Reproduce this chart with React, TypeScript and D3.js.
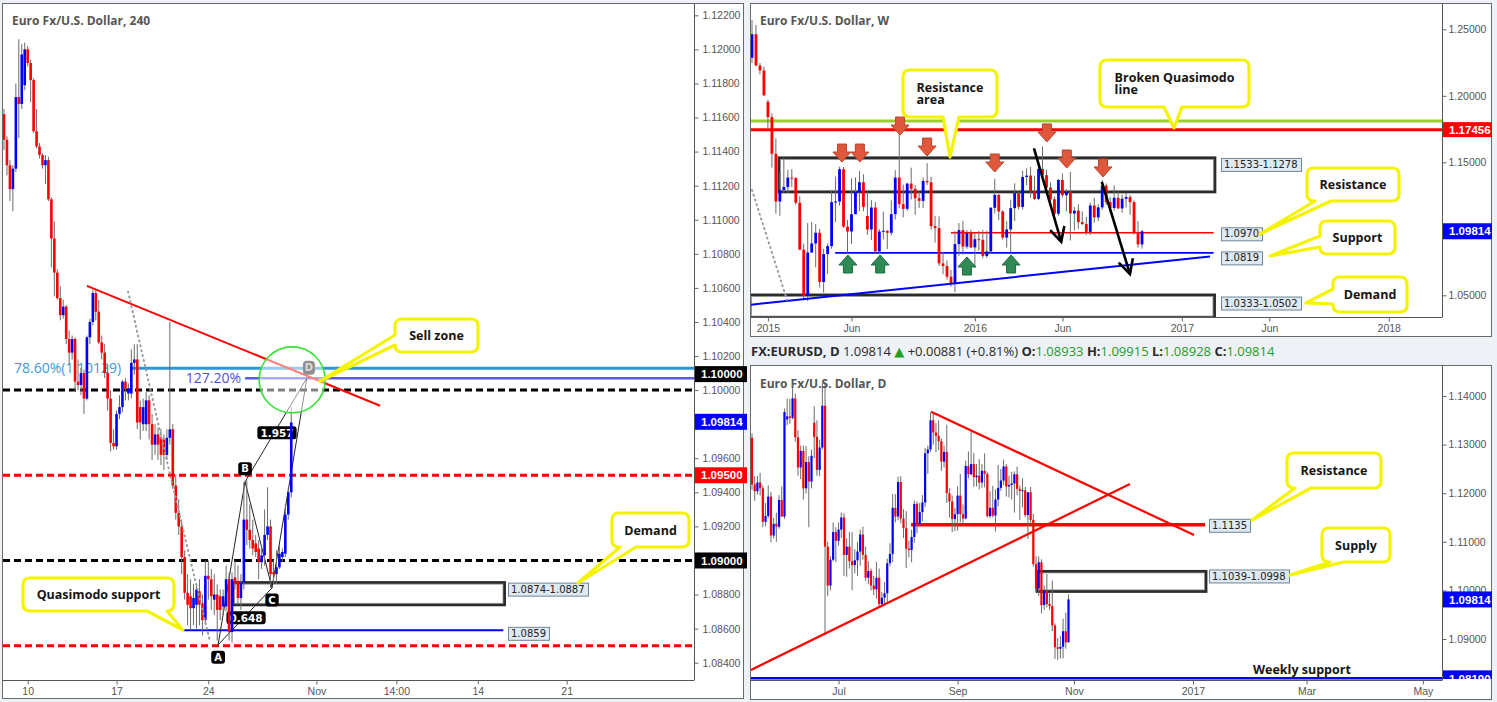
"use client"

import { useEffect, useRef } from "react"
import * as d3 from "d3"

type Bar = [number, number, number, number] // open, high, low, close
type Pt = [number, number] // bar index, price

// ---------------- 4H chart (EURUSD, 240) ----------------
const h4Bars: Bar[] = [
  [1.1162, 1.1165, 1.1141, 1.1147], [1.1147, 1.1149, 1.1126, 1.1132], [1.1132, 1.1135, 1.1111, 1.1118],
  [1.1118, 1.1132, 1.1105, 1.113], [1.113, 1.118, 1.1128, 1.1172], [1.1172, 1.1206, 1.1148, 1.1168],
  [1.1168, 1.1203, 1.1165, 1.1197], [1.1179, 1.1204, 1.1176, 1.12], [1.12, 1.1202, 1.119, 1.1192],
  [1.1192, 1.1194, 1.1169, 1.1182], [1.1182, 1.1183, 1.1151, 1.1152], [1.1152, 1.1165, 1.1142, 1.1143],
  [1.1143, 1.1145, 1.1136, 1.1138], [1.1138, 1.1139, 1.113, 1.1132], [1.1132, 1.1138, 1.1121, 1.1135],
  [1.1135, 1.1137, 1.1111, 1.1112], [1.1112, 1.1113, 1.1072, 1.1089], [1.1089, 1.1099, 1.1055, 1.1069],
  [1.1069, 1.1071, 1.1053, 1.1054], [1.1054, 1.1061, 1.1041, 1.1044], [1.1044, 1.1053, 1.1042, 1.1049],
  [1.1049, 1.105, 1.1027, 1.103], [1.103, 1.1035, 1.1015, 1.1022], [1.1022, 1.1032, 1.1018, 1.103],
  [1.103, 1.1031, 1.0999, 1.1005], [1.1005, 1.1018, 1.1, 1.1003], [1.1003, 1.1013, 1.0997, 1.101],
  [1.101, 1.1012, 1.0986, 1.0995], [1.0995, 1.1032, 1.0994, 1.1031], [1.1031, 1.1042, 1.1027, 1.104],
  [1.104, 1.1059, 1.1038, 1.1057], [1.1057, 1.1059, 1.1041, 1.1046], [1.1046, 1.1053, 1.1027, 1.1028],
  [1.1028, 1.1032, 1.1018, 1.1022], [1.1022, 1.1027, 1.1007, 1.101], [1.101, 1.1015, 1.0988, 1.0995],
  [1.0995, 1.1, 1.0964, 1.0969], [1.0969, 1.0977, 1.0965, 1.0967], [1.0967, 1.0988, 1.0965, 1.0986],
  [1.0986, 1.0997, 1.0983, 1.099], [1.099, 1.1006, 1.0987, 1.1005], [1.1005, 1.1007, 1.0994, 1.1001],
  [1.0998, 1.1004, 1.0994, 1.1001], [1.0998, 1.1024, 1.0995, 1.1016], [1.1016, 1.1027, 1.1009, 1.1018],
  [1.1018, 1.1027, 1.0977, 1.0981], [1.099, 1.0994, 1.0971, 1.0981], [1.098, 1.0995, 1.0976, 1.099],
  [1.098, 1.0999, 1.0976, 1.0994], [1.0994, 1.0997, 1.0971, 1.098], [1.098, 1.0986, 1.0959, 1.0968],
  [1.0968, 1.098, 1.0962, 1.0974], [1.0974, 1.0978, 1.0959, 1.0968], [1.0972, 1.0977, 1.0956, 1.0962],
  [1.0971, 1.0974, 1.0953, 1.0962], [1.0962, 1.0977, 1.0959, 1.0972], [1.0972, 1.104, 1.0968, 1.0977],
  [1.0977, 1.098, 1.0942, 1.0944], [1.0944, 1.095, 1.0924, 1.0928], [1.0928, 1.0936, 1.0915, 1.092],
  [1.092, 1.0924, 1.0892, 1.0902], [1.0902, 1.0906, 1.0877, 1.0881], [1.0881, 1.0892, 1.0862, 1.0874],
  [1.0879, 1.0889, 1.0859, 1.0872], [1.0872, 1.0886, 1.0862, 1.0878], [1.0874, 1.0886, 1.086, 1.0883],
  [1.0882, 1.0889, 1.0862, 1.0874], [1.0875, 1.088, 1.0856, 1.0865], [1.0865, 1.09, 1.0862, 1.0891],
  [1.0891, 1.09, 1.0877, 1.0889], [1.0889, 1.0895, 1.0871, 1.0879], [1.0877, 1.0892, 1.0868, 1.088],
  [1.088, 1.0886, 1.0853, 1.0871], [1.0879, 1.0883, 1.0865, 1.0871], [1.0873, 1.0883, 1.0868, 1.0879],
  [1.0873, 1.0897, 1.087, 1.0889], [1.0889, 1.0893, 1.0853, 1.0858], [1.0858, 1.0893, 1.0852, 1.0889],
  [1.089, 1.09, 1.0883, 1.0887], [1.0888, 1.0897, 1.0874, 1.0878], [1.0878, 1.0892, 1.0871, 1.0887],
  [1.0887, 1.0946, 1.0883, 1.0924], [1.0924, 1.0947, 1.0909, 1.0918], [1.0918, 1.0933, 1.0907, 1.0912],
  [1.0912, 1.0924, 1.0903, 1.0907], [1.091, 1.0915, 1.0902, 1.0905], [1.0907, 1.0912, 1.0889, 1.0899],
  [1.0899, 1.0909, 1.0895, 1.0903], [1.0903, 1.093, 1.0897, 1.0915], [1.0915, 1.0943, 1.0912, 1.092],
  [1.092, 1.0924, 1.0884, 1.0892], [1.0893, 1.09, 1.0886, 1.0892], [1.0892, 1.0906, 1.0886, 1.0896],
  [1.0896, 1.0909, 1.0895, 1.0904], [1.0902, 1.0907, 1.0899, 1.0905], [1.0904, 1.0933, 1.0902, 1.0927],
  [1.0927, 1.0943, 1.0924, 1.094], [1.094, 1.099, 1.0937, 1.0981],
]
const h4TickIdx = [8, 38, 69, 105.5, 132.5, 160, 190]
const h4TickText = ["10", "17", "24", "Nov", "14:00", "14", "21"]
const h4PriceTicks = [
  1.084, 1.086, 1.088, 1.09, 1.092, 1.094, 1.096, 1.098, 1.1, 1.102,
  1.104, 1.106, 1.108, 1.11, 1.112, 1.114, 1.116, 1.118, 1.12, 1.122,
]
const h4BlackLevels = [1.1, 1.09]
const h4RedLevels = [1.095, 1.085]
const h4Fib786 = 1.10129
const h4Fib1272 = 1.10069
const h4Demand: [number, number] = [1.0887, 1.0874]
const h4QmSupport = 1.0859
const h4Trend: Pt[] = [[28, 1.10612], [127, 1.09908]]
const h4Dotted: Pt[] = [[41.9, 1.10577], [56.1, 1.09503], [69.6, 1.08522]]
const abcdNames = ["A", "B", "C", "D"]
const abcdPts: Pt[] = [[72.3, 1.08505], [81.4, 1.09462], [90.5, 1.08839], [102.3, 1.10072]]
const abcdRatios = ["0.648", "1.957"]
const sellZone: Pt = [97.3, 1.1006]
const h4Tags = [
  { p: 1.1, dy: -16, fill: "#000" },
  { p: 1.09814, dy: 0, fill: "#0000ff" },
  { p: 1.095, dy: 0, fill: "#ff0000" },
  { p: 1.09, dy: 0, fill: "#000" },
]

// ---------------- Weekly chart ----------------
const wBars: Bar[] = [
  [1.2286, 1.257, 1.2247, 1.2463], [1.2463, 1.2532, 1.2221, 1.2228], [1.2228, 1.2246, 1.2162, 1.2191],
  [1.2191, 1.2218, 1.2, 1.2003], [1.1955, 1.1971, 1.1754, 1.184], [1.184, 1.1868, 1.146, 1.1564],
  [1.1564, 1.1679, 1.1114, 1.1205], [1.1205, 1.1423, 1.1098, 1.1291], [1.1291, 1.1534, 1.127, 1.1315],
  [1.1315, 1.1443, 1.1269, 1.1385], [1.1385, 1.1449, 1.1315, 1.1381], [1.1381, 1.1389, 1.1181, 1.1196],
  [1.1196, 1.1245, 1.084, 1.0843], [1.0843, 1.0888, 1.0462, 1.0495], [1.0495, 1.1043, 1.0457, 1.0822],
  [1.0822, 1.1052, 1.0818, 1.089], [1.089, 1.1035, 1.0711, 1.097], [1.097, 1.0999, 1.0559, 1.06],
  [1.06, 1.0849, 1.052, 1.081], [1.081, 1.089, 1.066, 1.087], [1.087, 1.129, 1.085, 1.12],
  [1.12, 1.1392, 1.1052, 1.1205], [1.1205, 1.1467, 1.1174, 1.1448], [1.1448, 1.1465, 1.1008, 1.1016],
  [1.1016, 1.1066, 1.0819, 1.098], [1.098, 1.138, 1.0885, 1.111], [1.111, 1.1386, 1.1108, 1.1275],
  [1.1275, 1.1436, 1.1132, 1.135], [1.135, 1.141, 1.1132, 1.1165], [1.1096, 1.1279, 1.0955, 1.0995],
  [1.0995, 1.1215, 1.0915, 1.116], [1.116, 1.12, 1.0808, 1.083], [1.083, 1.0998, 1.0808, 1.098],
  [1.098, 1.1129, 1.092, 1.0985], [1.0985, 1.099, 1.0848, 1.097], [1.097, 1.1214, 1.095, 1.111],
  [1.111, 1.144, 1.107, 1.1385], [1.1385, 1.1714, 1.1155, 1.1185], [1.1185, 1.1332, 1.1087, 1.115],
  [1.115, 1.1345, 1.1135, 1.134], [1.134, 1.146, 1.122, 1.13], [1.13, 1.133, 1.1105, 1.123],
  [1.123, 1.128, 1.1157, 1.121], [1.121, 1.1387, 1.1155, 1.136], [1.136, 1.1494, 1.133, 1.135],
  [1.135, 1.139, 1.0995, 1.102], [1.102, 1.1095, 1.0897, 1.1005], [1.1005, 1.1093, 1.072, 1.074],
  [1.074, 1.0828, 1.0658, 1.072], [1.072, 1.0762, 1.0618, 1.064], [1.064, 1.0692, 1.0565, 1.059],
  [1.059, 1.0983, 1.0524, 1.0885], [1.0885, 1.1043, 1.0797, 1.099], [1.099, 1.106, 1.0805, 1.0866],
  [1.0866, 1.099, 1.085, 1.0968], [1.0968, 1.0993, 1.0856, 1.086], [1.086, 1.0971, 1.0711, 1.0922],
  [1.0922, 1.0984, 1.0835, 1.0917], [1.0917, 1.0993, 1.0778, 1.0796], [1.0796, 1.0986, 1.078, 1.083],
  [1.083, 1.1163, 1.081, 1.1158], [1.1158, 1.1376, 1.1115, 1.1255], [1.1255, 1.126, 1.1067, 1.113],
  [1.113, 1.114, 1.0919, 1.0934], [1.0934, 1.1057, 1.0858, 1.0995], [1.0995, 1.1218, 1.0822, 1.1155],
  [1.1155, 1.1342, 1.1058, 1.1268], [1.1268, 1.128, 1.1144, 1.1165], [1.1165, 1.1438, 1.1145, 1.139],
  [1.139, 1.1454, 1.1327, 1.14], [1.14, 1.1465, 1.1233, 1.1285], [1.1285, 1.1398, 1.1217, 1.1225],
  [1.1225, 1.146, 1.1215, 1.145], [1.145, 1.1616, 1.1384, 1.1403], [1.1403, 1.1445, 1.1301, 1.131],
  [1.131, 1.1348, 1.1195, 1.1222], [1.1222, 1.1243, 1.1099, 1.1113], [1.1113, 1.1374, 1.1098, 1.1367],
  [1.1367, 1.1416, 1.1236, 1.1253], [1.1253, 1.1298, 1.113, 1.1277], [1.1277, 1.1427, 1.0912, 1.1115],
  [1.1115, 1.1165, 1.0988, 1.1136], [1.1136, 1.1185, 1.1, 1.105], [1.105, 1.1131, 1.1028, 1.1036],
  [1.1036, 1.109, 1.0952, 1.0977], [1.0977, 1.1198, 1.0952, 1.1175], [1.1175, 1.1234, 1.1046, 1.1086],
  [1.1086, 1.1185, 1.1058, 1.1161], [1.1161, 1.1366, 1.1142, 1.1325], [1.1325, 1.1341, 1.118, 1.12],
  [1.12, 1.124, 1.1122, 1.1157], [1.1157, 1.1327, 1.1136, 1.1233], [1.1233, 1.1282, 1.115, 1.1153],
  [1.1153, 1.1258, 1.1121, 1.1226], [1.1226, 1.1269, 1.116, 1.1239], [1.1239, 1.1255, 1.1106, 1.12],
  [1.12, 1.1213, 1.0956, 1.097], [1.097, 1.1058, 1.0858, 1.0883], [1.0883, 1.0992, 1.0851, 1.0981],
]
const wTickIdx = [4, 25, 56, 78, 108, 130, 160]
const wTickText = ["2015", "Jun", "2016", "Jun", "2017", "Jun", "2018"]
// 1.10000 sits under the current-price tag, so it is not listed
const wPriceTicks = [1.05, 1.15, 1.2, 1.25]
const wResistanceArea: [number, number] = [1.1533, 1.1278]
const wDemand: [number, number] = [1.0502, 1.0333]
const wBrokenQm = 1.181
const wRedLevel = 1.17456
const wResistance = 1.097
const wSupport = 1.0819
const wTrend: Pt[] = [[-1, 1.0427], [115.1, 1.0792]]
const wDotted: Pt[] = [[0, 1.1292], [8.8, 1.0465]]
const wMoves: [Pt, Pt][] = [
  [[70.85, 1.1605], [77.7, 1.0903]],
  [[87.9, 1.1352], [94.97, 1.066]],
]
const wDownMarks: Pt[] = [
  [22.6, 1.1502], [27.1, 1.1502], [37.2, 1.1705], [44, 1.1547],
  [61, 1.1427], [74.1, 1.1653], [79.1, 1.1457], [88.2, 1.139],
]
const wUpMarks: Pt[] = [[24.1, 1.0803], [32.2, 1.0803], [54, 1.0788], [65.1, 1.0803]]

// ---------------- Daily chart ----------------
const dBars: Bar[] = [
  // May 18 - May 31
  [1.1314, 1.1323, 1.1207, 1.1218], [1.1218, 1.1235, 1.1184, 1.1204], [1.1204, 1.1236, 1.1197, 1.1222],
  [1.1222, 1.1242, 1.1195, 1.121], [1.121, 1.1216, 1.113, 1.1141], [1.1141, 1.118, 1.1132, 1.1153],
  [1.1153, 1.1216, 1.1149, 1.1193], [1.1193, 1.1203, 1.1099, 1.1113], [1.1113, 1.1149, 1.1107, 1.1137],
  [1.1137, 1.116, 1.11, 1.1131],
  // June
  [1.1131, 1.1196, 1.1127, 1.1186], [1.1186, 1.1214, 1.1151, 1.1152], [1.1152, 1.1374, 1.1147, 1.1367],
  [1.1352, 1.1395, 1.134, 1.1358], [1.1358, 1.1394, 1.1343, 1.1355], [1.1355, 1.1416, 1.1352, 1.1395],
  [1.1395, 1.1405, 1.1306, 1.1315], [1.1315, 1.133, 1.1236, 1.1253], [1.1253, 1.1298, 1.1229, 1.1287],
  [1.1287, 1.1298, 1.1187, 1.121], [1.121, 1.1297, 1.1199, 1.1264], [1.1264, 1.1276, 1.113, 1.1224],
  [1.1224, 1.129, 1.121, 1.1277], [1.1345, 1.1379, 1.1272, 1.1316], [1.1316, 1.135, 1.1236, 1.1248],
  [1.1248, 1.131, 1.1235, 1.1294], [1.1294, 1.1427, 1.129, 1.138], [1.138, 1.1429, 1.0912, 1.109],
  [1.109, 1.11, 1.0988, 1.101], [1.101, 1.107, 1.1, 1.1063], [1.1063, 1.114, 1.106, 1.112],
  [1.112, 1.113, 1.1058, 1.1102],
  // July
  [1.1102, 1.114, 1.1092, 1.1125], [1.1125, 1.116, 1.1108, 1.115], [1.115, 1.1159, 1.103, 1.1073],
  [1.1073, 1.1107, 1.1028, 1.109], [1.109, 1.112, 1.1045, 1.106], [1.106, 1.112, 1.1, 1.1052],
  [1.1052, 1.1085, 1.1035, 1.1062], [1.1062, 1.11, 1.103, 1.108], [1.108, 1.1125, 1.1051, 1.1115],
  [1.1115, 1.1131, 1.1063, 1.1073], [1.1073, 1.109, 1.102, 1.1026], [1.1026, 1.106, 1.1013, 1.104],
  [1.104, 1.1045, 1.1, 1.101], [1.101, 1.103, 1.099, 1.1002], [1.1002, 1.1059, 1.0983, 1.1026],
  [1.1026, 1.1045, 1.0967, 1.0972], [1.0972, 1.0997, 1.0966, 1.0985], [1.0985, 1.1017, 1.0968, 1.0994],
  [1.0994, 1.1065, 1.0975, 1.1056], [1.1056, 1.1097, 1.105, 1.1075], [1.1075, 1.1198, 1.1058, 1.117],
  // August
  [1.117, 1.1198, 1.114, 1.1152], [1.1152, 1.1234, 1.1144, 1.1223], [1.1223, 1.1235, 1.1138, 1.1148],
  [1.1148, 1.1167, 1.1108, 1.1128], [1.1128, 1.1163, 1.1046, 1.1086], [1.1086, 1.1102, 1.1068, 1.1083],
  [1.1083, 1.1125, 1.1058, 1.111], [1.111, 1.1185, 1.1098, 1.1178], [1.1178, 1.1183, 1.1118, 1.1136],
  [1.1136, 1.118, 1.1132, 1.1161], [1.1161, 1.1196, 1.1142, 1.1181], [1.1181, 1.1293, 1.1172, 1.1282],
  [1.1282, 1.1298, 1.124, 1.129], [1.129, 1.1366, 1.1285, 1.135], [1.135, 1.1366, 1.13, 1.1325],
  [1.1325, 1.1344, 1.1284, 1.1318], [1.1318, 1.135, 1.1289, 1.1307], [1.1307, 1.1313, 1.1246, 1.1265],
  [1.1265, 1.1298, 1.1253, 1.1285], [1.1285, 1.1341, 1.118, 1.12], [1.12, 1.121, 1.115, 1.1183],
  [1.1183, 1.1195, 1.112, 1.1147], [1.1147, 1.117, 1.1122, 1.1157],
  // September
  [1.1157, 1.1214, 1.1123, 1.1195], [1.1195, 1.124, 1.114, 1.1157], [1.1157, 1.1177, 1.1136, 1.1148],
  [1.1148, 1.1267, 1.1146, 1.1256], [1.1256, 1.1286, 1.1231, 1.1239], [1.1239, 1.1327, 1.1237, 1.126],
  [1.126, 1.1283, 1.1213, 1.1233], [1.1233, 1.126, 1.1214, 1.1236], [1.1236, 1.127, 1.1208, 1.1222],
  [1.1222, 1.126, 1.1211, 1.1246], [1.1246, 1.1282, 1.1212, 1.124], [1.124, 1.1243, 1.115, 1.1153],
  [1.1153, 1.1204, 1.1149, 1.117], [1.117, 1.1215, 1.115, 1.1154], [1.1154, 1.1208, 1.1121, 1.1187],
  [1.1187, 1.1258, 1.1173, 1.1211], [1.1211, 1.125, 1.1205, 1.1226], [1.1226, 1.1269, 1.1217, 1.1255],
  [1.1255, 1.126, 1.1193, 1.1214], [1.1214, 1.1236, 1.1191, 1.1217], [1.1217, 1.1244, 1.1187, 1.122],
  [1.122, 1.1245, 1.116, 1.1239],
  // October
  [1.1239, 1.1255, 1.1196, 1.1209], [1.1209, 1.1216, 1.1145, 1.1205], [1.1205, 1.123, 1.1171, 1.1206],
  [1.1206, 1.1213, 1.1151, 1.1155], [1.1155, 1.1188, 1.1106, 1.1202], [1.1202, 1.1213, 1.1137, 1.1145],
  [1.1145, 1.1158, 1.1049, 1.1054], [1.1054, 1.107, 1.0998, 1.1004], [1.1004, 1.107, 1.0989, 1.1058],
  [1.1058, 1.1064, 1.0953, 1.097], [1.097, 1.101, 1.096, 1.1], [1.1, 1.1034, 1.0965, 1.0972],
  [1.0972, 1.0995, 1.096, 1.0968], [1.0968, 1.102, 1.0916, 1.0928], [1.0928, 1.0932, 1.0859, 1.0883],
  [1.0883, 1.0902, 1.0857, 1.088], [1.088, 1.0906, 1.086, 1.0884], [1.0884, 1.0942, 1.086, 1.0916],
  [1.0916, 1.0954, 1.088, 1.0893], [1.08933, 1.09915, 1.08928, 1.09814],
]
const dTickIdx = [32, 76, 119, 163, 205, 248]
const dTickText = ["Jul", "Sep", "Nov", "2017", "Mar", "May"]
const dPriceTicks = [1.09, 1.1, 1.11, 1.12, 1.13, 1.14]
const dSupply: [number, number] = [1.1039, 1.0998]
const dResistance = 1.1135
const dWeeklySupport = 1.0819
const dFalling: Pt[] = [[66.2, 1.13677], [163.4, 1.1114]]
const dRising: Pt[] = [[-0.4, 1.08362], [139.7, 1.12189]]

const headerParts = [
  { t: "FX:EURUSD, D", bold: true, green: false },
  { t: " 1.09814 ", bold: false, green: false },
  { t: "▲", bold: false, green: true },
  { t: " +0.00881 (+0.81%) ", bold: false, green: false },
  { t: "O:", bold: true, green: false },
  { t: "1.08933 ", bold: false, green: true },
  { t: "H:", bold: true, green: false },
  { t: "1.09915 ", bold: false, green: true },
  { t: "L:", bold: true, green: false },
  { t: "1.08928 ", bold: false, green: true },
  { t: "C:", bold: true, green: false },
  { t: "1.09814", bold: false, green: true },
]

type Side = "top" | "bottom" | "left" | "right"
interface Callout {
  x: number; y: number; w: number; h: number
  side: Side; a: number; b: number; tip: [number, number]; lines: string[]
}
const callouts: Callout[] = [
  { x: 23, y: 578, w: 151, h: 33, side: "bottom", a: 124, b: 144, tip: [183, 630], lines: ["Quasimodo support"] },
  { x: 395, y: 319, w: 83, h: 33, side: "left", a: 16, b: 26, tip: [320, 381], lines: ["Sell zone"] },
  { x: 612, y: 513, w: 77, h: 34, side: "bottom", a: 8, b: 24, tip: [578, 583], lines: ["Demand"] },
  { x: 903, y: 70, w: 94, h: 47, side: "bottom", a: 40, b: 56, tip: [950, 157], lines: ["Resistance", "area"] },
  { x: 1100, y: 60, w: 149, h: 47, side: "bottom", a: 64, b: 82, tip: [1174, 128], lines: ["Broken Quasimodo", "line"] },
  { x: 1307, y: 168, w: 92, h: 33, side: "bottom", a: 8, b: 24, tip: [1260, 234], lines: ["Resistance"] },
  { x: 1320, y: 221, w: 75, h: 33, side: "left", a: 15, b: 26, tip: [1270, 256], lines: ["Support"] },
  { x: 1333, y: 277, w: 74, h: 35, side: "left", a: 12, b: 27, tip: [1306, 303], lines: ["Demand"] },
  { x: 1287, y: 453, w: 94, h: 35, side: "bottom", a: 8, b: 24, tip: [1252, 520], lines: ["Resistance"] },
  { x: 1322, y: 528, w: 68, h: 34, side: "bottom", a: 8, b: 22, tip: [1290, 575], lines: ["Supply"] },
]

const RED = "#ff0000"
const BLUE = "#0000ff"
const AXIS_FONT = "'Liberation Sans', Arial, sans-serif"
const UI_FONT = "'Open Sans', 'DejaVu Sans', sans-serif"
const TAG_FONT = "'DejaVu Sans', sans-serif"
const fmt5 = d3.format(".5f")

type G = d3.Selection<any, unknown, null, undefined>

function candles(g: G, bars: Bar[], x: any, y: any, bw: number) {
  const c = g.append("g").selectAll("g").data(bars).join("g")
  c.append("line")
    .attr("x1", (_, i) => x(i)).attr("x2", (_, i) => x(i))
    .attr("y1", (d) => y(d[1])).attr("y2", (d) => y(d[2]))
    .attr("stroke", "#6b6b6b").attr("stroke-width", 1)
  c.append("rect")
    .attr("x", (_, i) => x(i) - bw / 2)
    .attr("width", bw)
    .attr("y", (d) => y(Math.max(d[0], d[3])))
    .attr("height", (d) => Math.max(1, Math.abs(y(d[0]) - y(d[3]))))
    .attr("fill", (d) => (d[3] >= d[0] ? BLUE : RED))
}

function hLine(g: G, x1: number, x2: number, yy: number, color: string, width: number, dash?: string) {
  g.append("line").attr("x1", x1).attr("x2", x2).attr("y1", yy).attr("y2", yy)
    .attr("stroke", color).attr("stroke-width", width)
    .attr("stroke-dasharray", dash ?? null)
}

function zoneBox(g: G, x1: number, x2: number, y1: number, y2: number) {
  g.append("rect").attr("x", x1).attr("y", y1).attr("width", x2 - x1).attr("height", y2 - y1)
    .attr("fill", "none").attr("stroke", "#2b2b2b").attr("stroke-width", 3)
  g.append("rect").attr("x", x1 + 1.5).attr("y", y1 + 1.5).attr("width", x2 - x1 - 3).attr("height", y2 - y1 - 3)
    .attr("fill", "none").attr("stroke", "#9a9a9a").attr("stroke-width", 0.8)
}

function boxTag(g: G, x: number, yTop: number, text: string) {
  const t = g.append("text").attr("x", x + 3).attr("y", yTop + 6.5).attr("dy", "0.36em")
    .attr("font-family", TAG_FONT).attr("font-size", 10).attr("fill", "#222").text(text)
  const w = (t.node() as SVGTextElement).getComputedTextLength()
  g.insert("rect", () => t.node() as any).attr("x", x + 0.5).attr("y", yTop + 0.5)
    .attr("width", Math.round(w) + 6).attr("height", 13)
    .attr("fill", "#dfe9f1").attr("stroke", "#6f8597").attr("stroke-width", 1)
}

function axisTag(g: G, x: number, yc: number, w: number, h: number, fill: string, text: string) {
  g.append("rect").attr("x", x).attr("y", yc - h / 2).attr("width", w).attr("height", h).attr("fill", fill)
  g.append("text").attr("x", x + 6).attr("y", yc).attr("dy", "0.36em")
    .attr("font-family", AXIS_FONT).attr("font-weight", "bold").attr("font-size", 11.5)
    .attr("fill", "#fff").text(text)
}

function callout(g: G, c: Callout) {
  const { x, y, w, h, a, b } = c
  const r = 7
  const [tx, ty] = c.tip
  let p = `M${x + r},${y}`
  if (c.side === "top") p += `H${x + a}L${tx},${ty}L${x + b},${y}`
  p += `H${x + w - r}Q${x + w},${y} ${x + w},${y + r}`
  if (c.side === "right") p += `V${y + a}L${tx},${ty}L${x + w},${y + b}`
  p += `V${y + h - r}Q${x + w},${y + h} ${x + w - r},${y + h}`
  if (c.side === "bottom") p += `H${x + b}L${tx},${ty}L${x + a},${y + h}`
  p += `H${x + r}Q${x},${y + h} ${x},${y + h - r}`
  if (c.side === "left") p += `V${y + b}L${tx},${ty}L${x},${y + a}`
  p += `V${y + r}Q${x},${y} ${x + r},${y}Z`
  g.append("path").attr("d", p).attr("fill", "#fff")
    .attr("stroke", "#f4f400").attr("stroke-width", 3.2).attr("stroke-linejoin", "round")

  const lh = 12.5
  const cy = y + h / 2
  const texts = c.lines.map((line, i) =>
    g.append("text").attr("y", cy - ((c.lines.length - 1) * lh) / 2 + i * lh).attr("dy", "0.36em")
      .attr("font-family", UI_FONT).attr("font-weight", "bold").attr("font-size", 12.5)
      .attr("fill", "#151515").text(line))
  const widths = texts.map((t) => (t.node() as SVGTextElement).getComputedTextLength())
  const maxW = Math.max(...widths)
  texts.forEach((t) => t.attr("x", x + w / 2 - maxW / 2))
}

function frame(g: G, x: number, y: number, w: number, h: number) {
  g.append("rect").attr("x", x + 0.5).attr("y", y + 0.5).attr("width", w).attr("height", h)
    .attr("fill", "#fff").attr("stroke", "#6a6a6a").attr("stroke-width", 1)
}

function axes(
  g: G, x: any, y: any, px: number, pyTop: number, pyBottom: number, fx: number,
  priceTicks: number[], tickIdx: number[], tickText: string[], pad: number,
) {
  g.append("line").attr("x1", px + 0.5).attr("x2", px + 0.5).attr("y1", pyTop).attr("y2", pyBottom)
    .attr("stroke", "#555")
  g.append("line").attr("x1", fx).attr("x2", px + 0.5).attr("y1", pyBottom + 0.5).attr("y2", pyBottom + 0.5)
    .attr("stroke", "#555")
  const ya = g.append("g").attr("transform", `translate(${px + 0.5},0)`)
    .call(d3.axisRight(y).tickValues(priceTicks).tickFormat((d: any) => fmt5(d)).tickSize(4).tickPadding(pad).tickSizeOuter(0))
  ya.select(".domain").remove()
  ya.attr("font-family", AXIS_FONT).attr("font-size", 10.5)
  ya.selectAll("line").attr("stroke", "#666")
  ya.selectAll("text").attr("fill", "#555")
  const xa = g.append("g").attr("transform", `translate(0,${pyBottom + 0.5})`)
    .call(d3.axisBottom(x).tickValues(tickIdx).tickFormat((_: any, i: number) => tickText[i]).tickSize(4).tickPadding(3).tickSizeOuter(0))
  xa.select(".domain").remove()
  xa.attr("font-family", AXIS_FONT).attr("font-size", 10.5)
  xa.selectAll("line").attr("stroke", "#666")
  xa.selectAll("text").attr("fill", "#555")
}

function title(g: G, x: number, y: number, text: string) {
  g.append("text").attr("x", x).attr("y", y).attr("font-family", UI_FONT).attr("font-weight", "bold")
    .attr("font-size", 12).attr("fill", "#555").text(text)
}

export default function App() {
  const svgRef = useRef<SVGSVGElement>(null)

  useEffect(() => {
    if (!svgRef.current) return
    const svg = d3.select(svgRef.current)
    svg.selectAll("*").remove()
    const defs = svg.append("defs")
    const clip = (id: string, x0: number, y0: number, x1: number, y1: number) =>
      defs.append("clipPath").attr("id", id).append("rect")
        .attr("x", x0).attr("y", y0).attr("width", x1 - x0).attr("height", y1 - y0)

    svg.append("rect").attr("width", 1497).attr("height", 702).attr("fill", "#eef1f5")

    // ================= 4H panel =================
    const x4 = d3.scaleLinear().domain([0, 233]).range([4, 694])
    const y4 = d3.scaleLinear().domain([1.084, 1.122]).range([662.7, 15.3])
    const L = { x0: 3, x1: 694, y0: 4, y1: 680 }
    frame(svg, 2, 3, 741, 695)
    clip("clip-h4", L.x0, L.y0, L.x1, L.y1)
    const gL = svg.append("g").attr("clip-path", "url(#clip-h4)")

    h4BlackLevels.forEach((p) => hLine(gL, L.x0, L.x1, y4(p), "#000", 3, "7,4"))
    h4RedLevels.forEach((p) => hLine(gL, L.x0, L.x1, y4(p), RED, 3, "7,4"))
    hLine(gL, x4(42.6), L.x1, y4(h4Fib786), "#2f96d4", 3)
    hLine(gL, x4(81.4), L.x1, y4(h4Fib1272), "#5a5ade", 2.5)
    gL.append("text").attr("x", 14).attr("y", y4(h4Fib786)).attr("dy", "0.36em")
      .attr("font-family", UI_FONT).attr("font-size", 14).attr("fill", "#3d9ad6")
      .text(`78.60%(${h4Fib786})`)
    gL.append("text").attr("x", x4(81.4) - 4).attr("y", y4(h4Fib1272)).attr("dy", "0.36em")
      .attr("text-anchor", "end").attr("font-family", UI_FONT).attr("font-size", 14).attr("fill", "#4f4fd6")
      .text("127.20%")
    zoneBox(gL, x4(77.3), x4(169), y4(h4Demand[0]), y4(h4Demand[1]))
    hLine(gL, x4(60.5), x4(168.6), y4(h4QmSupport), BLUE, 2)

    // harmonic ABCD pattern
    const ab = abcdPts.map((p) => [x4(p[0]), y4(p[1])] as [number, number])
    const legs: [number, number][] = [[0, 1], [1, 2], [2, 3], [0, 2], [1, 3]]
    legs.forEach(([i, j]) => gL.append("line")
      .attr("x1", ab[i][0]).attr("y1", ab[i][1]).attr("x2", ab[j][0]).attr("y2", ab[j][1])
      .attr("stroke", "#222").attr("stroke-width", 1))
    const badge = (cx: number, cy: number, text: string, fill: string, fs: number) => {
      const t = gL.append("text").attr("x", cx).attr("y", cy).attr("dy", "0.36em").attr("text-anchor", "middle")
        .attr("font-family", TAG_FONT).attr("font-weight", "bold").attr("font-size", fs).attr("fill", "#fff").text(text)
      const w = (t.node() as SVGTextElement).getComputedTextLength()
      gL.insert("rect", () => t.node() as any).attr("x", cx - w / 2 - 3).attr("y", cy - 6.5)
        .attr("width", w + 6).attr("height", 13).attr("rx", 3).attr("fill", fill)
    }
    badge(ab[0][0], ab[0][1] + 12.5, abcdNames[0], "#000", 10)
    badge(ab[1][0], ab[1][1] - 13, abcdNames[1], "#000", 10)
    badge(ab[2][0], ab[2][1] + 12, abcdNames[2], "#000", 10)
    badge((ab[0][0] + ab[2][0]) / 2 + 1, (ab[0][1] + ab[2][1]) / 2 + 1.5, abcdRatios[0], "#000", 10.5)
    badge((ab[1][0] + ab[3][0]) / 2 + 1, (ab[1][1] + ab[3][1]) / 2 + 3, abcdRatios[1], "#000", 10.5)

    candles(gL, h4Bars, x4, y4, 2.6)

    const line4 = d3.line<Pt>().x((d) => x4(d[0])).y((d) => y4(d[1]))
    gL.append("path").attr("d", line4(h4Trend)).attr("stroke", RED).attr("stroke-width", 2).attr("fill", "none")
    gL.append("path").attr("d", d3.line<Pt>().curve(d3.curveCatmullRom).x((d) => x4(d[0])).y((d) => y4(d[1]))(h4Dotted))
      .attr("stroke", "#9a9a9a").attr("stroke-width", 2).attr("stroke-dasharray", "1,4")
      .attr("stroke-linecap", "round").attr("fill", "none")

    // sell zone circle (semi transparent white fill)
    gL.append("circle").attr("cx", x4(sellZone[0])).attr("cy", y4(sellZone[1])).attr("r", 33)
      .attr("fill", "rgba(255,255,255,0.5)").attr("stroke", "#38e038").attr("stroke-width", 1.6)
    const dx = ab[3][0] + 2
    const dy = ab[3][1] - 10
    gL.append("rect").attr("x", dx - 6).attr("y", dy - 7).attr("width", 12).attr("height", 14).attr("rx", 4)
      .attr("fill", "#8f8f8f")
    gL.append("text").attr("x", dx).attr("y", dy).attr("dy", "0.36em").attr("text-anchor", "middle")
      .attr("font-family", TAG_FONT).attr("font-weight", "bold").attr("font-size", 10).attr("fill", "#d8d8d8")
      .text(abcdNames[3])

    axes(svg, x4, y4, L.x1, 3, L.y1, 2, h4PriceTicks, h4TickIdx, h4TickText, 4)
    h4Tags.forEach((t) => axisTag(svg, L.x1 + 1, y4(t.p) + t.dy, 52, 16, t.fill, fmt5(t.p)))
    boxTag(svg, 508, y4(h4Demand[0]), `${h4Demand[1]}-${h4Demand[0]}`)
    boxTag(svg, 508, y4(h4QmSupport) - 3.5, `${h4QmSupport}`)
    title(svg, 12, 25, "Euro Fx/U.S. Dollar, 240")

    // ================= Weekly panel =================
    const xW = d3.scaleLinear().domain([0, 173]).range([752, 1440.5])
    const yW = d3.scaleLinear().domain([1.05, 1.25]).range([295.3, 29.3])
    const WP = { x0: 751, x1: 1442, y0: 4, y1: 317 }
    frame(svg, 750, 3, 741, 333)
    clip("clip-w", WP.x0, WP.y0, WP.x1, WP.y1)
    const gW = svg.append("g").attr("clip-path", "url(#clip-w)")

    zoneBox(gW, xW(-0.5), xW(116.2), yW(wDemand[0]), yW(wDemand[1]))
    zoneBox(gW, xW(6.8), xW(116.3), yW(wResistanceArea[0]), yW(wResistanceArea[1]))
    hLine(gW, WP.x0, WP.x1, yW(wBrokenQm), "#9acd32", 3)
    hLine(gW, WP.x0, WP.x1, yW(wRedLevel), RED, 3)
    hLine(gW, xW(50), xW(116), yW(wResistance), RED, 1.6)
    hLine(gW, xW(20.9), xW(116), yW(wSupport), BLUE, 1.6)

    candles(gW, wBars, xW, yW, 2.8)

    const lineW = d3.line<Pt>().x((d) => xW(d[0])).y((d) => yW(d[1]))
    gW.append("path").attr("d", lineW(wTrend)).attr("stroke", BLUE).attr("stroke-width", 2).attr("fill", "none")
    gW.append("path").attr("d", lineW(wDotted)).attr("stroke", "#9a9a9a").attr("stroke-width", 2)
      .attr("stroke-dasharray", "1,4").attr("stroke-linecap", "round").attr("fill", "none")
    wMoves.forEach(([s, e]) => {
      const x1 = xW(s[0]), y1 = yW(s[1]), x2 = xW(e[0]), y2 = yW(e[1])
      gW.append("line").attr("x1", x1).attr("y1", y1).attr("x2", x2).attr("y2", y2)
        .attr("stroke", "#000").attr("stroke-width", 2.6)
      const ang = Math.atan2(y1 - y2, x1 - x2)
      const len = 16, spread = 0.48
      const p1 = [x2 + len * Math.cos(ang + spread), y2 + len * Math.sin(ang + spread)]
      const p2 = [x2 + len * Math.cos(ang - spread), y2 + len * Math.sin(ang - spread)]
      gW.append("path").attr("d", `M${p1[0]},${p1[1]}L${x2},${y2}L${p2[0]},${p2[1]}`)
        .attr("fill", "none").attr("stroke", "#000").attr("stroke-width", 2.6).attr("stroke-linejoin", "miter")
    })
    const downShape = "M0,0L-9,-10L-4.5,-10L-4.5,-18L4.5,-18L4.5,-10L9,-10Z"
    const upShape = "M0,0L-9,10L-4.5,10L-4.5,18L4.5,18L4.5,10L9,10Z"
    gW.selectAll(".dn").data(wDownMarks).join("path").attr("class", "dn").attr("d", downShape)
      .attr("transform", (d) => `translate(${xW(d[0])},${yW(d[1])})`)
      .attr("fill", "#e0583c").attr("stroke", "#b9452d").attr("stroke-width", 1)
    gW.selectAll(".up").data(wUpMarks).join("path").attr("class", "up").attr("d", upShape)
      .attr("transform", (d) => `translate(${xW(d[0])},${yW(d[1])})`)
      .attr("fill", "#2f8a55").attr("stroke", "#1f6a3e").attr("stroke-width", 1)

    axes(svg, xW, yW, WP.x1, 3, WP.y1, 750, wPriceTicks, wTickIdx, wTickText, 2)
    axisTag(svg, WP.x1 + 1, yW(wRedLevel), 49, 15, RED, fmt5(wRedLevel))
    axisTag(svg, WP.x1 + 1, yW(1.09814), 49, 16, BLUE, fmt5(1.09814))
    boxTag(svg, 1221, yW(wResistanceArea[0]), `${wResistanceArea[0]}-${wResistanceArea[1]}`)
    boxTag(svg, 1221, yW(wResistance) - 5.5, `${wResistance.toFixed(4)}`)
    boxTag(svg, 1221, yW(wSupport) - 1.5, `${wSupport}`)
    boxTag(svg, 1221, yW(wDemand[0]) + 1.5, `${wDemand[1]}-${wDemand[0]}`)
    title(svg, 760, 25, "Euro Fx/U.S. Dollar, W")

    // ================= Header between panels =================
    const hdr = svg.append("text").attr("x", 751).attr("y", 355.5)
      .attr("font-family", UI_FONT).attr("font-size", 13).style("white-space", "pre")
    headerParts.forEach((part) => hdr.append("tspan")
      .attr("font-weight", part.bold ? "bold" : "normal")
      .attr("fill", part.green ? "#1f9e1f" : "#2a2a2a")
      .text(part.t))

    // ================= Daily panel =================
    const xD = d3.scaleLinear().domain([0, 255]).range([752, 1441.8])
    const yD = d3.scaleLinear().domain([1.09, 1.14]).range([639, 396])
    const DP = { x0: 751, x1: 1442, y0: 366, y1: 680 }
    frame(svg, 750, 365, 741, 334)
    clip("clip-d", DP.x0, DP.y0, DP.x1, DP.y1)
    const gD = svg.append("g").attr("clip-path", "url(#clip-d)")

    zoneBox(gD, xD(105.4), xD(167.8), yD(dSupply[0]), yD(dSupply[1]))
    hLine(gD, xD(58.8), xD(167.5), yD(dResistance), RED, 3.5)
    hLine(gD, DP.x0, DP.x1, yD(dWeeklySupport), BLUE, 2.5)

    candles(gD, dBars, xD, yD, 2.2)

    const lineD = d3.line<Pt>().x((d) => xD(d[0])).y((d) => yD(d[1]))
    gD.append("path").attr("d", lineD(dFalling)).attr("stroke", RED).attr("stroke-width", 2.2).attr("fill", "none")
    gD.append("path").attr("d", lineD(dRising)).attr("stroke", RED).attr("stroke-width", 2.2).attr("fill", "none")
    gD.append("text").attr("x", 1253).attr("y", yD(dWeeklySupport) - 4.5)
      .attr("font-family", UI_FONT).attr("font-weight", "bold").attr("font-size", 12.5).attr("fill", "#151515")
      .text("Weekly support")

    axes(svg, xD, yD, DP.x1, 365, DP.y1, 750, dPriceTicks, dTickIdx, dTickText, 2)
    clip("clip-dtag", DP.x1, DP.y0, 1497, DP.y1 - 1)
    const gDt = svg.append("g").attr("clip-path", "url(#clip-dtag)")
    axisTag(gDt, DP.x1 + 1, yD(1.09814), 49, 16, BLUE, fmt5(1.09814))
    axisTag(gDt, DP.x1 + 1, yD(dWeeklySupport), 49, 16, BLUE, fmt5(dWeeklySupport))
    boxTag(svg, 1209, yD(dResistance) - 6, `${dResistance}`)
    boxTag(svg, 1209, yD(dSupply[0]) - 2, `${dSupply[0]}-${dSupply[1]}`)
    title(svg, 760, 388, "Euro Fx/U.S. Dollar, D")

    // ================= Callouts =================
    const gC = svg.append("g")
    callouts.forEach((c) => callout(gC, c))
  }, [])

  return (
    <svg
      ref={svgRef}
      width={1497}
      height={702}
      style={{ position: "absolute", left: 0, top: 0, display: "block" }}
    />
  )
}
